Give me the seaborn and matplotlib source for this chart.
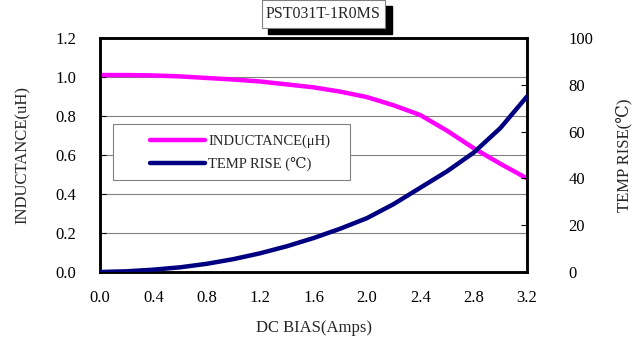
import numpy as np
import pandas as pd
import seaborn as sns
import matplotlib.pyplot as plt
from matplotlib.patches import Rectangle
from matplotlib.lines import Line2D

sns.set_theme(style="white")
plt.rcParams['font.family'] = ['Liberation Serif', 'DejaVu Serif', 'DejaVu Sans']

# data
dc_bias = [0.0, 0.2, 0.4, 0.6, 0.8, 1.0, 1.2, 1.4, 1.6, 1.8, 2.0, 2.2, 2.4, 2.6, 2.8, 3.0, 3.2]
inductance = [1.01, 1.01, 1.008, 1.003, 0.995, 0.987, 0.977, 0.962, 0.947, 0.925,
              0.897, 0.855, 0.805, 0.725, 0.635, 0.555, 0.48]
temp_rise = [0.0, 0.3, 1.0, 2.0, 3.5, 5.5, 8.0, 11.0, 14.5, 18.5,
             23.0, 29.0, 36.0, 43.0, 51.0, 61.5, 75.0]
x_ticks = [0.0, 0.4, 0.8, 1.2, 1.6, 2.0, 2.4, 2.8, 3.2]

df = pd.DataFrame({'bias': dc_bias, 'L': inductance, 'T': temp_rise})

pink = '#ff00ff'
navy = '#000080'

fig = plt.figure(figsize=(6.36, 3.42), dpi=100)
ax = fig.add_axes([100 / 636, 70 / 342, 427 / 636, 234 / 342])
ax2 = ax.twinx()

sns.lineplot(data=df, x='bias', y='L', ax=ax, color=pink, lw=3.2, zorder=3)
sns.lineplot(data=df, x='bias', y='T', ax=ax2, color=navy, lw=3.2, zorder=3)

ax.set_xlim(0, 3.2)
ax.set_ylim(0, 1.2)
ax2.set_ylim(0, 100)
ax.set_xticks(x_ticks)
ax.set_xticklabels([f'{v:.1f}' for v in x_ticks])
ax.set_yticks(np.arange(0, 1.21, 0.2))
ax.set_yticklabels([f'{v:.1f}' for v in np.arange(0, 1.21, 0.2)])
ax2.set_yticks(range(0, 101, 20))

for a in (ax, ax2):
    for s in a.spines.values():
        s.set_color('black')
        s.set_linewidth(1.8)
    a.tick_params(direction='in', length=4, width=0.8, colors='black',
                  labelsize=12, labelcolor='black')
ax.tick_params(axis='x', pad=13)
ax.tick_params(axis='y', pad=17)
ax2.tick_params(axis='y', pad=30)
ax.yaxis.grid(True, color='#808080', lw=0.8)
ax.set_axisbelow(True)

ax.set_xlabel('DC BIAS(Amps)', fontsize=12, labelpad=10)
ax.set_ylabel('INDUCTANCE(uH)', fontsize=12, labelpad=18)
ax2.set_ylabel('TEMP RISE(℃)', fontsize=12, labelpad=16)

# legend: frame drawn as a rectangle, entries placed inside
ax2.set_zorder(ax.get_zorder() + 1)
ax2.add_patch(Rectangle((0.03, 0.393), 0.555, 0.239, transform=ax2.transAxes,
                        facecolor='white', edgecolor='#808080', lw=0.8, zorder=4))
handles = [Line2D([], [], color=pink, lw=3.2), Line2D([], [], color=navy, lw=3.2)]
leg = ax2.legend(handles, ['INDUCTANCE(μH)', 'TEMP RISE (℃)'],
                 loc='center left', bbox_to_anchor=(0.117, 0.508),
                 frameon=False, fontsize=10.5, handlelength=3.8,
                 handletextpad=0.2, borderpad=0, labelspacing=0.6,
                 borderaxespad=0)
leg.set_zorder(5)

# title with a shadowed box
fig.patches.append(Rectangle((268 / 636, 1 - 34 / 342), 124 / 636, 28 / 342,
                             transform=fig.transFigure, color='black', zorder=1))
fig.patches.append(Rectangle((262 / 636, 1 - 28 / 342), 123 / 636, 28 / 342,
                             transform=fig.transFigure, facecolor='white',
                             edgecolor='#808080', lw=0.8, zorder=2))
fig.text(323.5 / 636, 1 - 14 / 342, 'PST031T-1R0MS', ha='center', va='center',
         fontsize=11.5, zorder=3)

fig.savefig('out.png', dpi=100)
